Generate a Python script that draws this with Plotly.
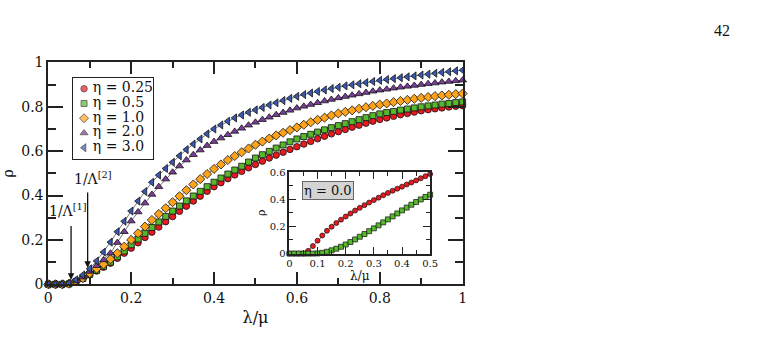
import plotly.graph_objects as go

# ---------------- data ----------------
lam = [0.0, 0.0167, 0.0333, 0.05, 0.0667, 0.0833, 0.1, 0.1167, 0.1333, 0.15,
       0.1667, 0.1833, 0.2, 0.2167, 0.2333, 0.25, 0.2667, 0.2833, 0.3, 0.3167,
       0.3333, 0.35, 0.3667, 0.3833, 0.4, 0.4167, 0.4333, 0.45, 0.4667, 0.4833,
       0.5, 0.5167, 0.5333, 0.55, 0.5667, 0.5833, 0.6, 0.6167, 0.6333, 0.65,
       0.6667, 0.6833, 0.7, 0.7167, 0.7333, 0.75, 0.7667, 0.7833, 0.8, 0.8167,
       0.8333, 0.85, 0.8667, 0.8833, 0.9, 0.9167, 0.9333, 0.95, 0.9667, 0.9833, 1.0]

rho_eta025 = [0.0, 0.0, 0.0, 0.002, 0.012, 0.025, 0.042, 0.06, 0.077, 0.095,
              0.117, 0.14, 0.163, 0.187, 0.211, 0.235, 0.258, 0.282, 0.305, 0.329,
              0.352, 0.375, 0.397, 0.419, 0.44, 0.458, 0.476, 0.493, 0.509, 0.525,
              0.54, 0.555, 0.569, 0.582, 0.595, 0.608, 0.62, 0.632, 0.644, 0.656,
              0.667, 0.678, 0.688, 0.698, 0.708, 0.717, 0.726, 0.735, 0.743, 0.75,
              0.757, 0.764, 0.77, 0.776, 0.782, 0.787, 0.791, 0.795, 0.799, 0.802, 0.805]

rho_eta05 = [0.0, 0.0, 0.0, 0.002, 0.012, 0.026, 0.045, 0.063, 0.081, 0.1,
             0.124, 0.15, 0.178, 0.204, 0.23, 0.256, 0.281, 0.306, 0.33, 0.353,
             0.376, 0.398, 0.419, 0.44, 0.46, 0.479, 0.497, 0.515, 0.532, 0.551,
             0.569, 0.584, 0.599, 0.614, 0.628, 0.642, 0.655, 0.666, 0.676, 0.686,
             0.696, 0.706, 0.715, 0.724, 0.733, 0.742, 0.751, 0.76, 0.768, 0.774,
             0.779, 0.785, 0.79, 0.795, 0.8, 0.804, 0.808, 0.812, 0.815, 0.819, 0.822]

rho_eta1 = [0.0, 0.0, 0.0, 0.003, 0.013, 0.028, 0.05, 0.07, 0.09, 0.113,
            0.14, 0.17, 0.2, 0.23, 0.26, 0.29, 0.317, 0.343, 0.37, 0.397,
            0.424, 0.45, 0.474, 0.497, 0.52, 0.54, 0.56, 0.578, 0.595, 0.612,
            0.629, 0.643, 0.657, 0.671, 0.683, 0.695, 0.707, 0.719, 0.73, 0.741,
            0.751, 0.761, 0.77, 0.777, 0.784, 0.791, 0.798, 0.804, 0.81, 0.815,
            0.821, 0.826, 0.831, 0.836, 0.84, 0.844, 0.848, 0.851, 0.854, 0.857, 0.86]

rho_eta2 = [0.0, 0.0, 0.0, 0.003, 0.015, 0.032, 0.058, 0.084, 0.11, 0.14,
            0.188, 0.237, 0.285, 0.326, 0.366, 0.405, 0.44, 0.474, 0.505, 0.533,
            0.56, 0.584, 0.605, 0.625, 0.643, 0.659, 0.674, 0.689, 0.703, 0.717,
            0.73, 0.742, 0.753, 0.764, 0.774, 0.784, 0.794, 0.802, 0.81, 0.818,
            0.826, 0.833, 0.84, 0.846, 0.852, 0.858, 0.864, 0.87, 0.875, 0.879,
            0.884, 0.888, 0.892, 0.896, 0.9, 0.904, 0.907, 0.911, 0.914, 0.917, 0.92]

rho_eta3 = [0.0, 0.0, 0.001, 0.005, 0.02, 0.042, 0.07, 0.105, 0.145, 0.19,
            0.237, 0.284, 0.33, 0.375, 0.418, 0.46, 0.492, 0.522, 0.55, 0.579,
            0.607, 0.632, 0.655, 0.678, 0.7, 0.718, 0.735, 0.75, 0.763, 0.775,
            0.786, 0.797, 0.808, 0.818, 0.828, 0.838, 0.847, 0.855, 0.862, 0.869,
            0.876, 0.882, 0.888, 0.894, 0.899, 0.904, 0.909, 0.914, 0.919, 0.923,
            0.927, 0.931, 0.935, 0.939, 0.943, 0.947, 0.951, 0.955, 0.958, 0.962, 0.965]

lam_in = [0.0, 0.0167, 0.0333, 0.05, 0.0667, 0.0833, 0.1, 0.1167, 0.1333, 0.15,
          0.1667, 0.1833, 0.2, 0.2167, 0.2333, 0.25, 0.2667, 0.2833, 0.3, 0.3167,
          0.3333, 0.35, 0.3667, 0.3833, 0.4, 0.4167, 0.4333, 0.45, 0.4667, 0.4833, 0.5]

rho_in_circ = [0.0, 0.0, 0.0, 0.0, 0.02, 0.055, 0.095, 0.133, 0.168, 0.198,
               0.225, 0.25, 0.273, 0.295, 0.317, 0.337, 0.357, 0.376, 0.394, 0.412,
               0.43, 0.447, 0.463, 0.478, 0.493, 0.509, 0.524, 0.539, 0.555, 0.57, 0.586]

rho_in_sq = [0.0, 0.0, 0.0, 0.0, 0.0, 0.0, 0.001, 0.005, 0.013, 0.024,
             0.036, 0.05, 0.067, 0.085, 0.104, 0.124, 0.144, 0.165, 0.186, 0.208,
             0.23, 0.252, 0.274, 0.296, 0.318, 0.339, 0.36, 0.38, 0.399, 0.417, 0.434]

names = ["η = 0.25", "η = 0.5", "η = 1.0", "η = 2.0", "η = 3.0"]
series = [rho_eta025, rho_eta05, rho_eta1, rho_eta2, rho_eta3]
colors = ["#e8191f", "#56b82a", "#ffa31a", "#7a3d9a", "#3a58b0"]
symbols = ["circle", "square", "diamond", "triangle-up", "triangle-left"]
sizes = [6.5, 6, 7, 7, 7]

SERIF = "DejaVu Serif, Liberation Serif, serif"
AX = "#222222"

fig = go.Figure()

for ys in series:
    fig.add_trace(go.Scatter(x=lam, y=ys, mode="lines", showlegend=False,
                             line=dict(color="#555555", width=0.8),
                             hoverinfo="skip", cliponaxis=False))
for nm, ys, c, s, sz in zip(names, series, colors, symbols, sizes):
    fig.add_trace(go.Scatter(x=lam, y=ys, mode="markers", name=nm, showlegend=False,
                             marker=dict(symbol=s, size=sz, color=c,
                                         line=dict(color="#111111", width=0.8)),
                             cliponaxis=False))

# inset
for ys, c, s in [(rho_in_circ, colors[0], "circle"), (rho_in_sq, colors[1], "square")]:
    fig.add_trace(go.Scatter(x=lam_in, y=ys, mode="lines", showlegend=False,
                             line=dict(color="#555555", width=0.8),
                             xaxis="x2", yaxis="y2", cliponaxis=False))
    fig.add_trace(go.Scatter(x=lam_in, y=ys, mode="markers", showlegend=False,
                             marker=dict(symbol=s, size=5, color=c,
                                         line=dict(color="#111111", width=0.7)),
                             xaxis="x2", yaxis="y2", cliponaxis=False))

# legend box (xmgrace style) as a small categorical panel
fig.add_trace(go.Scatter(x=[0.14] * len(names), y=names, mode="markers",
                         marker=dict(symbol=symbols, size=sizes, color=colors,
                                     line=dict(color="#111111", width=0.8)),
                         xaxis="x3", yaxis="y3", showlegend=False, cliponaxis=False,
                         hoverinfo="skip"))
fig.add_trace(go.Scatter(x=[0.25] * len(names), y=names, mode="text",
                         text=names, textposition="middle right",
                         textfont=dict(size=14, family=SERIF, color="#111111"),
                         xaxis="x3", yaxis="y3", showlegend=False, cliponaxis=False,
                         hoverinfo="skip"))

W, H = 759, 351


def px_x(p):
    return p / W


def px_y(p):
    return 1 - p / H


common = dict(showline=True, linecolor=AX, linewidth=2, mirror="ticks",
              ticks="inside", tickcolor=AX, tickwidth=1.5,
              showgrid=False, zeroline=False)

fig.update_layout(
    width=W, height=H,
    margin=dict(l=0, r=0, t=0, b=0),
    paper_bgcolor="white", plot_bgcolor="white",
    font=dict(family=SERIF, color="#111111"),
    xaxis=dict(domain=[px_x(45), px_x(466)], range=[0, 1], dtick=0.2,
               ticklen=12,
               minor=dict(dtick=0.1, ticks="inside", ticklen=6, tickwidth=1.5, tickcolor=AX),
               tickfont=dict(size=14, family=SERIF),
               title=dict(text="λ/μ", font=dict(size=16, family=SERIF), standoff=7),
               **common),
    yaxis=dict(domain=[px_y(289.5), px_y(57)], range=[0, 1], dtick=0.2,
               ticklen=15,
               minor=dict(dtick=0.1, ticks="inside", ticklen=8, tickwidth=1.5, tickcolor=AX),
               tickfont=dict(size=14, family=SERIF),
               title=dict(text="ρ", font=dict(size=14, family=SERIF), standoff=4),
               **common),
    xaxis2=dict(domain=[px_x(290), px_x(433)], anchor="y2", range=[0, 0.5], dtick=0.1,
                ticklen=7,
                minor=dict(dtick=0.05, ticks="inside", ticklen=4, tickwidth=1, tickcolor=AX),
                tickfont=dict(size=10, family=SERIF),
                title=dict(text="λ/μ", font=dict(size=12, family=SERIF), standoff=0),
                **{**common, "linewidth": 1.5, "tickwidth": 1}),
    yaxis2=dict(domain=[px_y(257.3), px_y(172)], anchor="x2", range=[0, 0.6], dtick=0.2,
                ticklen=7,
                minor=dict(dtick=0.1, ticks="inside", ticklen=4, tickwidth=1, tickcolor=AX),
                tickfont=dict(size=10, family=SERIF),
                title=dict(text="ρ", font=dict(size=11, family=SERIF), standoff=2),
                **{**common, "linewidth": 1.5, "tickwidth": 1}),
    xaxis3=dict(domain=[px_x(70), px_x(151)], anchor="y3", range=[0, 1],
                showline=True, linecolor=AX, linewidth=1.2, mirror=True,
                showticklabels=False, ticks="", showgrid=False, zeroline=False,
                fixedrange=True),
    yaxis3=dict(domain=[px_y(158), px_y(73)], anchor="x3", type="category",
                categoryorder="array", categoryarray=names[::-1],
                range=[-0.75, 4.75],
                showline=True, linecolor=AX, linewidth=1.2, mirror=True,
                showticklabels=False, ticks="", showgrid=False, zeroline=False,
                fixedrange=True),
    showlegend=False,
)

ann = [
    dict(x=0.055, y=0.02, ax=0.055, ay=0.27, xref="x", yref="y", axref="x", ayref="y",
         text="", showarrow=True, arrowhead=2, arrowsize=1, arrowwidth=1.3, arrowcolor="#111"),
    dict(x=0.095, y=0.075, ax=0.095, ay=0.42, xref="x", yref="y", axref="x", ayref="y",
         text="", showarrow=True, arrowhead=2, arrowsize=1, arrowwidth=1.3, arrowcolor="#111"),
    dict(x=0.0475, y=0.333, xref="x", yref="y", text="1/Λ<sup>[1]</sup>", showarrow=False,
         font=dict(size=14, family=SERIF)),
    dict(x=0.109, y=0.48, xref="x", yref="y", text="1/Λ<sup>[2]</sup>", showarrow=False,
         font=dict(size=14, family=SERIF)),
    dict(x=0.138, y=0.468, xref="x2", yref="y2", text="η = 0.0", showarrow=False,
         font=dict(size=13, family=SERIF), bgcolor="#d4d4d4", bordercolor="#666666",
         borderwidth=1, borderpad=1),
    dict(x=px_x(740), y=px_y(13), xref="paper", yref="paper", text="42", showarrow=False,
         font=dict(size=16, family="Liberation Serif, serif")),
]
fig.update_layout(annotations=ann)

fig.write_html("out.html")
